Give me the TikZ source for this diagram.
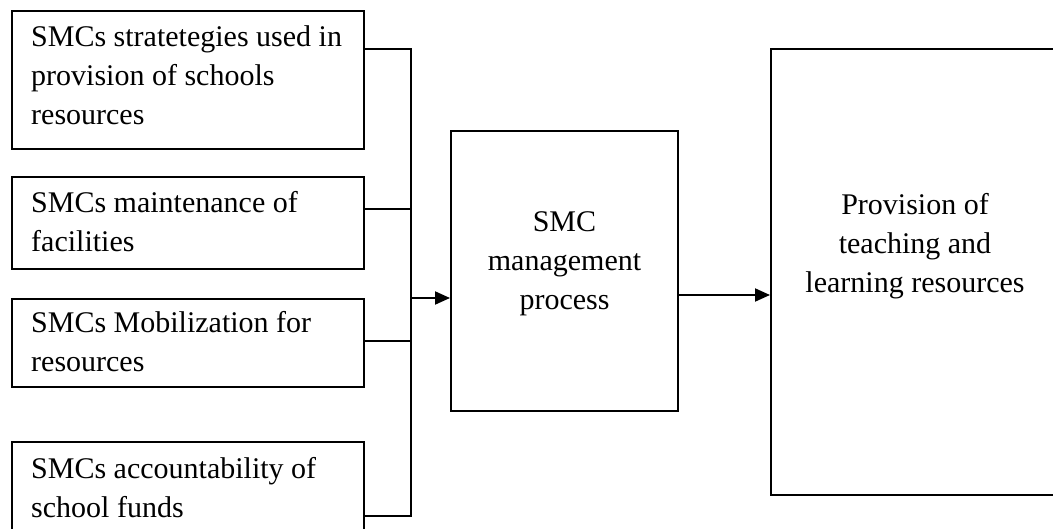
\documentclass[tikz,border=0pt]{standalone}
\usepackage{fontspec}
\setmainfont{Liberation Serif}
\usetikzlibrary{arrows.meta,calc}
\begin{document}
\begin{tikzpicture}[x=1pt,y=-1pt,
  box/.style={draw,line width=2pt,rectangle,inner sep=0pt,anchor=north west},
  txt/.style={font=\fontsize{30}{39}\selectfont,inner sep=0pt},
  ln/.style={line width=2pt},
  arr/.style={line width=2pt,-{Triangle[length=15pt,width=13pt]}}]
\useasboundingbox (0,0) rectangle (1053,529);
\clip (0,0) rectangle (1053,529);
% left boxes
\node[box,minimum width=352pt,minimum height=138pt] (b1) at (11,10) {};
\node[box,minimum width=352pt,minimum height=92pt] (b2) at (11,176) {};
\node[box,minimum width=352pt,minimum height=88pt] (b3) at (11,298) {};
\node[box,minimum width=352pt,minimum height=110pt] (b4) at (11,441) {};
\node[txt,anchor=base west,align=left] (t1) at ($(b1.north west)+(20,115)$) {SMCs stratetegies used in\\provision of schools\\resources};
\node[txt,anchor=base west,align=left] (t2) at ($(b2.north west)+(20,76)$) {SMCs maintenance of\\facilities};
\node[txt,anchor=base west,align=left] (t3) at ($(b3.north west)+(20,74)$) {SMCs Mobilization for\\resources};
\node[txt,anchor=base west,align=left] (t4) at ($(b4.north west)+(20,76)$) {SMCs accountability of\\school funds};
% middle and right boxes
\node[box,minimum width=227pt,minimum height=280pt] (smc) at (450,130) {};
\node[txt,anchor=base,align=center] (tsmc) at ($(smc.north)+(0,180)$) {SMC\\management\\process};
\node[box,minimum width=290pt,minimum height=446pt] (out) at (770,48) {};
\node[txt,anchor=base,align=center] (tout) at ($(out.north west)+(145,245)$) {Provision of\\teaching and\\learning resources};
% bus
\coordinate (bt) at (411,49);
\coordinate (bb) at (411,516);
\coordinate (j) at (411,298);
\draw[ln] ($(b1.north east)+(0,39)$) -- (bt) -- (bb) -- ($(b4.north east)+(0,75)$);
\draw[ln] ($(b2.north east)+(0,33)$) -- (bt |- 0,209);
\draw[ln] ($(b3.north east)+(0,43)$) -- (bt |- 0,341);
\draw[arr] (j) -- (smc.west |- j);
\coordinate (o) at (677,295);
\draw[arr] (smc.east |- o) -- (out.west |- o);
\end{tikzpicture}
\end{document}
